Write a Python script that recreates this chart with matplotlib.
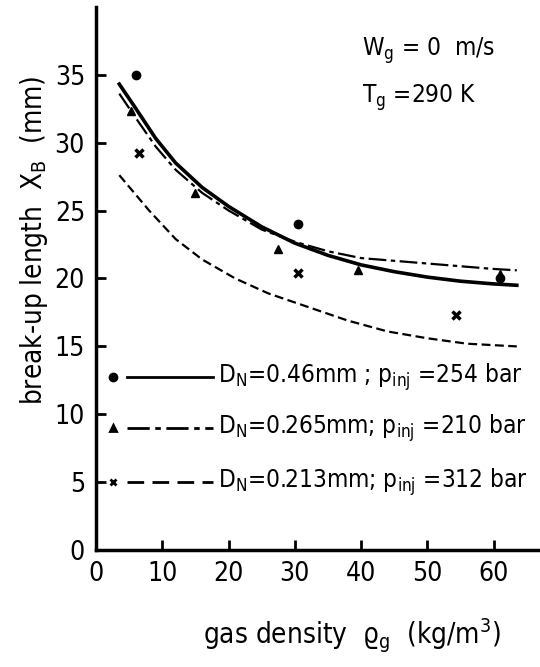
from matplotlib import pyplot as plt

plt.rcParams['font.family'] = ['DejaVu Sans']
plt.rcParams['font.stretch'] = 'condensed'
plt.rcParams['mathtext.default'] = 'regular'

# measured points
circ_x = [6, 30.4, 61]
circ_y = [35, 24.0, 20.0]
tri_x = [5.2, 15, 27.5, 39.5, 61]
tri_y = [32.3, 26.3, 22.2, 20.6, 20.3]
cross_x = [6.5, 30.4, 54.3]
cross_y = [29.2, 20.4, 17.3]

# fitted curves
solid_x = [3.5, 6, 9, 12, 16, 20, 25, 30, 35, 40, 45, 50, 55, 60, 63.5]
solid_y = [34.3, 32.5, 30.3, 28.5, 26.7, 25.3, 23.8, 22.6, 21.7, 21.0, 20.5, 20.1, 19.8, 19.6, 19.5]
dashdot_x = [3.5, 6, 9, 12, 16, 20, 25, 30, 35, 40, 45, 50, 55, 60, 63.5]
dashdot_y = [33.6, 31.8, 29.7, 28.0, 26.3, 25.0, 23.6, 22.7, 22.0, 21.5, 21.3, 21.1, 20.9, 20.7, 20.6]
dash_x = [3.5, 8, 12, 16, 21, 26, 32, 38, 44, 50, 56, 63.5]
dash_y = [27.6, 25.0, 22.9, 21.4, 20.0, 18.9, 17.9, 16.9, 16.1, 15.6, 15.2, 15.0]

legend_txt = [r'D$_N$=0.46mm ; p$_{inj}$ =254 bar',
              r'D$_N$=0.265mm; p$_{inj}$ =210 bar',
              r'D$_N$=0.213mm; p$_{inj}$ =312 bar']

fig = plt.figure(figsize=(5.4, 6.67), dpi=100)
ax = fig.add_axes([0.178, 0.175, 0.822, 0.815])

ax.plot(solid_x, solid_y, 'k-', linewidth=2.6)
ax.plot(dashdot_x, dashdot_y, color='k', linestyle=(0, (8, 2, 2, 2)), linewidth=1.6)
ax.plot(dash_x, dash_y, color='k', linestyle=(0, (4, 2)), linewidth=1.6)

ax.plot(circ_x, circ_y, 'ko', markersize=6)
ax.plot(tri_x, tri_y, 'k^', markersize=6)
ax.plot(cross_x, cross_y, 'kx', markersize=6, markeredgewidth=2.5)

# hand made legend
rows = [0.319, 0.225, 0.125]
styles = ['-', (0, (8, 2, 2, 2)), (0, (6, 3))]
marks = ['o', '^', 'x']
for i in range(3):
    ax.plot([0.07, 0.264], [rows[i], rows[i]], color='k', linestyle=styles[i],
            linewidth=2, transform=ax.transAxes)
    ax.plot([0.038], [rows[i]], color='k', marker=marks[i], markersize=5,
            markeredgewidth=2, transform=ax.transAxes)
    ax.text(0.275, rows[i], legend_txt[i], transform=ax.transAxes,
            fontsize=17.5, va='center', ha='left')

ax.text(0.60, 0.92, r'W$_g$ = 0  m/s', transform=ax.transAxes, fontsize=17.5, va='center')
ax.text(0.60, 0.832, r'T$_g$ =290 K', transform=ax.transAxes, fontsize=17.5, va='center')

ax.set_xlim(0, 67)
ax.set_ylim(0, 40)
ax.set_xticks(range(0, 70, 10))
ax.set_yticks(range(0, 40, 5))
ax.tick_params(direction='in', length=7, width=2, labelsize=19, pad=8)
ax.spines['top'].set_visible(False)
ax.spines['right'].set_visible(False)
ax.spines['left'].set_linewidth(2.5)
ax.spines['bottom'].set_linewidth(2.5)

ax.set_xlabel(r'gas density  $\varrho_g$  (kg/m$^3$)', fontsize=20)
ax.xaxis.set_label_coords(0.577, -0.122)
ax.set_ylabel(r'break-up length  X$_B$  (mm)', fontsize=20)
ax.yaxis.set_label_coords(-0.105, 0.571)

plt.savefig('out.png')
